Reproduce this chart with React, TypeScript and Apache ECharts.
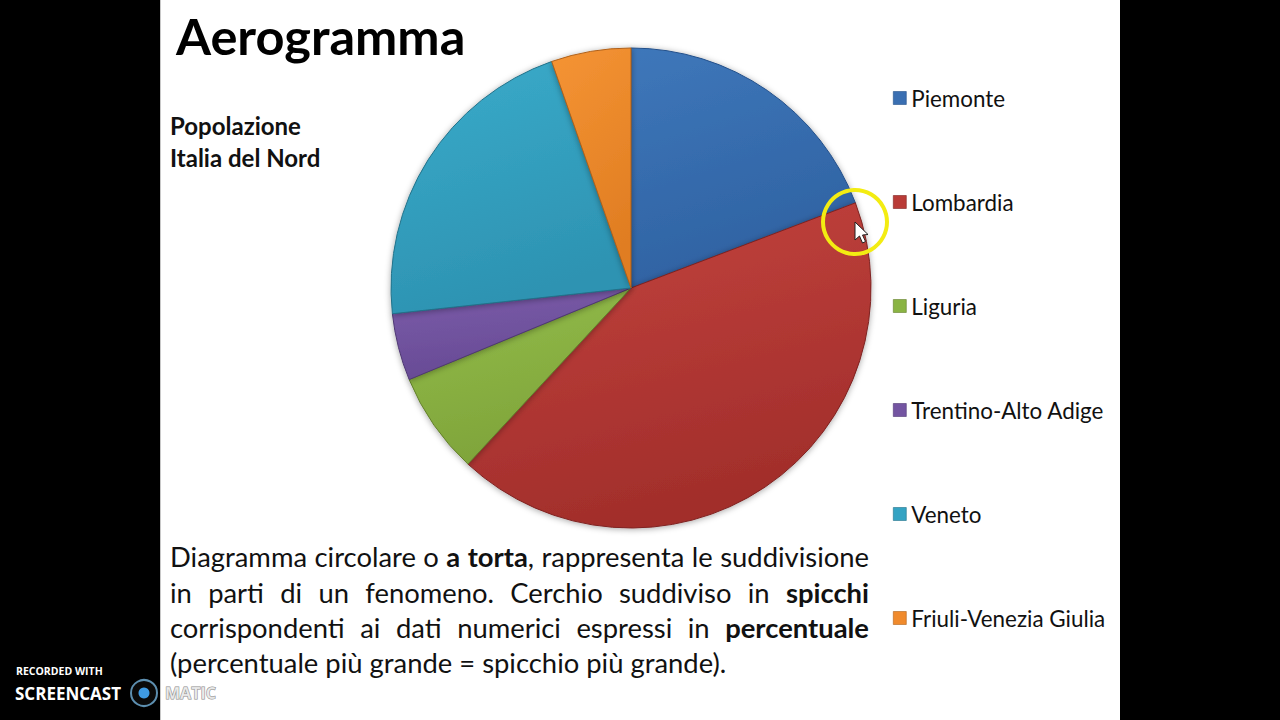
import React, { useEffect, useRef } from "react";
import * as echarts from "echarts";

// ---- Data (popolazione, migliaia di abitanti — stimati dalla figura) ----
const categories = [
  "Piemonte",
  "Lombardia",
  "Liguria",
  "Trentino-Alto Adige",
  "Veneto",
  "Friuli-Venezia Giulia",
];
const values = [4374, 9704, 1565, 1028, 4857, 1219];

const titleText = "Aerogramma";
const subtitleLines = ["Popolazione", "Italia del Nord"];
const bodyLines = [
  "Diagramma circolare o **a torta**, rappresenta le suddivisione",
  "in parti di un fenomeno. Cerchio suddiviso in **spicchi**",
  "corrispondenti ai dati numerici espressi in **percentuale**",
  "(percentuale più grande = spicchio più grande).",
];

// ---- Styles ----
const FONT = "Lato, 'Open Sans', sans-serif";
const lightColors = ["#3e77ba", "#c4443f", "#93bd4b", "#7b5caa", "#3aabca", "#f59434"];
const darkColors = ["#2f62a2", "#a22e2b", "#7fa43a", "#674a94", "#2d93b2", "#e07d22"];
const edgeColors = ["#24508a", "#7e2220", "#637f2c", "#4f3873", "#22728a", "#b0611a"];
const legendColors = ["#3a6fb2", "#b93b37", "#8ab443", "#7455a2", "#34a3c3", "#f08a2c"];

type Run = { text: string; bold: boolean };

function parseLine(line: string): Run[][] {
  const words: Run[][] = [];
  let bold = false;
  let word: Run[] = [];
  let cur = "";
  const pushRun = () => {
    if (cur) word.push({ text: cur, bold });
    cur = "";
  };
  for (let i = 0; i < line.length; i++) {
    if (line[i] === "*" && line[i + 1] === "*") {
      pushRun();
      bold = !bold;
      i++;
      continue;
    }
    if (line[i] === " ") {
      pushRun();
      if (word.length) words.push(word);
      word = [];
      continue;
    }
    cur += line[i];
  }
  pushRun();
  if (word.length) words.push(word);
  return words;
}

let ctx: CanvasRenderingContext2D | null = null;
function measure(text: string, size: number, bold: boolean): number {
  if (!ctx) ctx = document.createElement("canvas").getContext("2d");
  if (!ctx) return text.length * size * 0.5;
  ctx.font = `${bold ? "bold" : "normal"} ${size}px Lato`;
  return ctx.measureText(text).width;
}

function buildBody(): any[] {
  const left = 170;
  const right = 869;
  const ys = [556, 592, 627, 662];
  const parsed = bodyLines.map(parseLine);
  const size = 27.4;
  const wordW = (w: Run[], s: number) => w.reduce((a, r) => a + measure(r.text, s, r.bold), 0);
  const els: any[] = [];
  parsed.forEach((words, li) => {
    const widths = words.map((w) => wordW(w, size));
    const total = widths.reduce((a, b) => a + b, 0);
    const justify = li < parsed.length - 1;
    const gap = justify ? (right - left - total) / (words.length - 1) : measure(" ", size, false);
    let x = left;
    words.forEach((w, wi) => {
      let rx = x;
      w.forEach((r) => {
        els.push({
          type: "text",
          x: rx,
          y: ys[li],
          z: 50,
          silent: true,
          style: {
            text: r.text,
            fontFamily: FONT,
            fontSize: size,
            fontWeight: r.bold ? "bold" : "normal",
            fill: "#111111",
            align: "left",
            verticalAlign: "middle",
          },
        });
        rx += measure(r.text, size, r.bold);
      });
      x += widths[wi] + gap;
    });
  });
  return els;
}

export default function App() {
  const ref = useRef<HTMLDivElement>(null);

  useEffect(() => {
    if (!ref.current) return;
    const chart = echarts.init(ref.current, undefined, { renderer: "svg" });

    const graphics: any[] = [
      { type: "rect", x: 0, y: 0, z: -10, silent: true, shape: { x: 0, y: 0, width: 160, height: 720 }, style: { fill: "#000" } },
      { type: "rect", x: 0, y: 0, z: -10, silent: true, shape: { x: 1120, y: 0, width: 160, height: 720 }, style: { fill: "#000" } },
      { type: "line", z: -9, silent: true, shape: { x1: 160.5, y1: 0, x2: 160.5, y2: 720 }, style: { stroke: "#c8c8c8", lineWidth: 1 } },
      {
        type: "text", x: 176, y: 35, z: 50, silent: true,
        style: { text: titleText, fontFamily: FONT, fontSize: 50.5, fontWeight: "bold", fill: "#000", verticalAlign: "middle" },
      },
      ...subtitleLines.map((t, i) => ({
        type: "text", x: 170, y: 125 + i * 32, z: 50, silent: true,
        style: { text: t, fontFamily: FONT, fontSize: 24, fontWeight: "bold", fill: "#111", verticalAlign: "middle" },
      })),
      ...buildBody(),
      {
        type: "circle", z: 100, silent: true,
        shape: { cx: 855, cy: 222, r: 32 },
        style: { fill: "none", stroke: "#f3ec12", lineWidth: 4 },
      },
      {
        type: "polygon", z: 101, silent: true,
        shape: { points: [[855, 222], [855, 240], [859.5, 236], [862.5, 243], [865.5, 241.5], [862.5, 235], [868, 234.5]] },
        style: { fill: "#ffffff", stroke: "#222", lineWidth: 1 },
      },
      {
        type: "text", x: 16, y: 671, z: 100, silent: true,
        style: { text: "RECORDED WITH", fontFamily: "'Open Sans', sans-serif", fontSize: 10.5, fontWeight: "bold", fill: "#ffffff", verticalAlign: "middle" },
      },
      {
        type: "text", x: 15, y: 693, z: 100, silent: true,
        style: { text: "SCREENCAST", fontFamily: "'Open Sans', sans-serif", fontSize: 17, fontWeight: "bold", fill: "#ffffff", verticalAlign: "middle" },
      },
      {
        type: "circle", z: 100, silent: true,
        shape: { cx: 144, cy: 693, r: 13 },
        style: { fill: "#0a0a0a", stroke: "#5d8fb0", lineWidth: 2 },
      },
      {
        type: "circle", z: 101, silent: true,
        shape: { cx: 144, cy: 693, r: 5.5 },
        style: { fill: "#3f9be4" },
      },
      {
        type: "text", x: 165, y: 693, z: 100, silent: true,
        style: { text: "MATIC", fontFamily: "'Open Sans', sans-serif", fontSize: 16, fontWeight: "bold", fill: "rgba(235,235,235,0.85)", stroke: "#8a8a8a", lineWidth: 1, verticalAlign: "middle" },
      },
    ];

    chart.setOption({
      animation: false,
      backgroundColor: "#ffffff",
      legend: {
        orient: "vertical",
        left: 893,
        top: 86,
        padding: 0,
        itemWidth: 13,
        itemHeight: 13,
        itemGap: 80,
        icon: "rect",
        selectedMode: false,
        textStyle: { fontFamily: FONT, fontSize: 22.4, color: "#111111", lineHeight: 24 },
        data: categories.map((name, i) => ({
          name,
          itemStyle: { color: legendColors[i], borderColor: edgeColors[i], borderWidth: 0.6 },
        })),
      },
      graphic: { elements: graphics },
      series: [
        {
          type: "pie",
          center: [631, 288],
          radius: 240,
          startAngle: 90,
          clockwise: true,
          silent: true,
          label: { show: false },
          labelLine: { show: false },
          emphasis: { disabled: true },
          itemStyle: {
            shadowBlur: 6,
            shadowColor: "rgba(0,0,0,0.35)",
            shadowOffsetY: 1,
          },
          data: categories.map((name, i) => ({
            name,
            value: values[i],
            itemStyle: {
              color: {
                type: "linear",
                x: 0, y: 0, x2: 0.3, y2: 1,
                colorStops: [
                  { offset: 0, color: lightColors[i] },
                  { offset: 1, color: darkColors[i] },
                ],
              },
              borderColor: edgeColors[i],
              borderWidth: 1,
            },
          })),
        },
      ],
    });

    return () => chart.dispose();
  }, []);

  return (
    <div
      ref={ref}
      style={{ position: "fixed", left: 0, top: 0, width: 1280, height: 720 }}
    />
  );
}
